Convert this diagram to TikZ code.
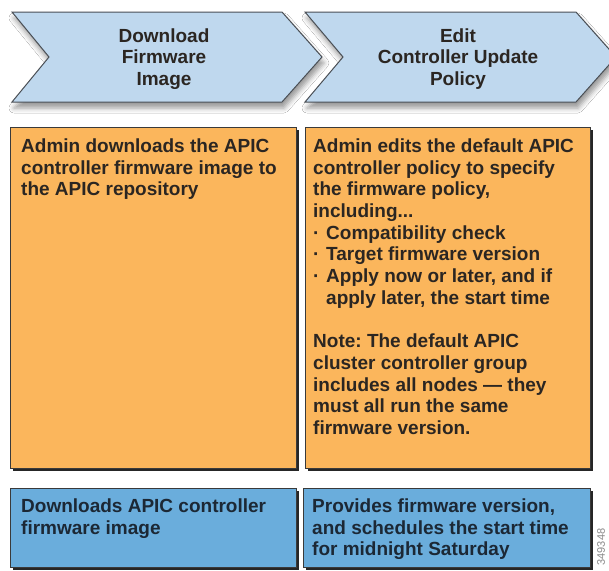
\documentclass[tikz,border=0pt]{standalone}
\usepackage{fontspec}
\setmainfont{Liberation Sans}
\frenchspacing
\usetikzlibrary{shadows.blur}
\definecolor{chev}{HTML}{BFD8EE}
\definecolor{chevline}{HTML}{4A4F55}
\definecolor{orangebox}{HTML}{FBB65C}
\definecolor{bluebox}{HTML}{6AADDC}
\definecolor{txtdark}{HTML}{2B2622}
\definecolor{txtblue}{HTML}{1C2835}
\definecolor{boxline}{HTML}{3A3A3A}
\definecolor{boxshadow}{HTML}{262626}
\definecolor{idgray}{HTML}{8A8A8A}
\begin{document}
\begin{tikzpicture}[x=1pt,y=-1pt,
  chevron/.style={fill=chev, draw=chevline, line width=1pt, line join=miter,
    blur shadow={shadow xshift=2pt, shadow yshift=-6pt, shadow blur radius=5pt, shadow opacity=40}},
  boxshade/.style={fill=boxshadow},
  orangepanel/.style={fill=orangebox, draw=boxline, line width=0.8pt},
  bluepanel/.style={fill=bluebox, draw=boxline, line width=0.8pt},
  headtext/.style={font=\fontsize{19}{21.5}\selectfont\bfseries, text=txtdark, align=center, inner sep=0pt, anchor=north},
  bodytext/.style={font=\fontsize{19}{21.7}\selectfont\bfseries, text=txtdark, align=left, inner sep=0pt, anchor=north west},
  bluetext/.style={bodytext, text=txtblue},
]
\useasboundingbox (0,0) rectangle (609,570);
\fill[white] (0,0) rectangle (609,570);
\clip (0,0) rectangle (609,570);

% chevrons
\path[chevron] (12,12) -- (282,12) -- (322,57) -- (282,102) -- (12,102) -- (49,57) -- cycle;
\path[chevron] (305,12) -- (576,12) -- (616,57) -- (576,102) -- (305,102) -- (343,57) -- cycle;

% orange panels
\fill[boxshade] (13,129.5) rectangle (298.5,470.5);
\draw[orangepanel] (10.5,127) rectangle (296,468);
\fill[boxshade] (307.5,129.5) rectangle (592.5,470.5);
\draw[orangepanel] (305,127) rectangle (590,468);

% blue panels
\fill[boxshade] (13,490.5) rectangle (298.5,569.5);
\draw[bluepanel] (10.5,488) rectangle (296,567);
\fill[boxshade] (306,490.5) rectangle (592.5,569.5);
\draw[bluepanel] (303.5,488) rectangle (590,567);

% texts
\node[headtext] (h1) at (164,28.4) {Download\\Firmware\\Image};
\node[headtext] (h2) at (458,28.4) {Edit\\Controller Update\\Policy};

\node[bodytext] (o1) at (21,138.4) {Admin downloads the APIC\\controller firmware image to\\the APIC repository};
\node[bodytext] (o2) at (313,138.4) {Admin edits the default APIC\\controller policy to specify\\the firmware policy,\\including...\\
\makebox[13pt][l]{·}Compatibility check\\
\makebox[13pt][l]{·}Target firmware version\\
\makebox[13pt][l]{·}Apply now or later, and if\\
\hspace*{13pt}apply later, the start time\\[21.7pt]
Note: The default APIC\\cluster controller group\\includes all nodes — they\\must all run the same\\firmware version.};

\node[bluetext] (b1) at (21,498.4) {Downloads APIC controller\\firmware image};
\node[bluetext] (b2) at (312,498.4) {Provides firmware version,\\and schedules the start time\\for midnight Saturday};

\node[rotate=90, font=\fontsize{11}{11}\selectfont, text=idgray, inner sep=0pt] (id) at (601,547) {349348};
\end{tikzpicture}
\end{document}
